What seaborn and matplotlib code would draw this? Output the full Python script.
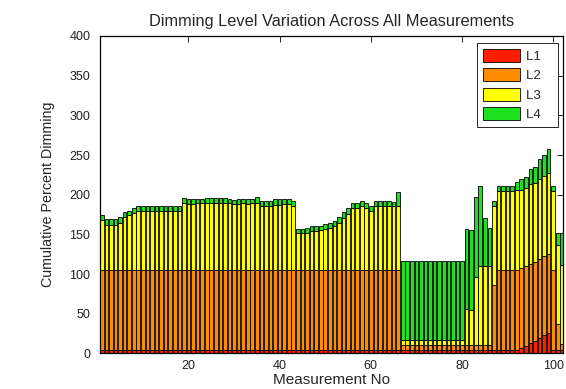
import pandas as pd
import matplotlib
matplotlib.use("Agg")
import matplotlib.pyplot as plt
import matplotlib.patches as mpatches
import seaborn as sns

l1 = [5, 5, 5, 5, 5, 5, 5, 5, 5, 5, 5, 5, 5, 5, 5, 5, 5, 5, 5, 5,
      5, 5, 5, 5, 5, 5, 5, 5, 5, 5, 5, 5, 5, 5, 5, 5, 5, 5, 5, 5,
      5, 5, 5, 5, 5, 5, 5, 5, 5, 5, 5, 5, 5, 5, 5, 5, 5, 5, 5, 5,
      5, 5, 5, 5, 5, 5, 5, 5, 5, 5, 5, 5, 5, 5, 5, 5, 5, 5, 5, 5,
      5, 5, 5, 5, 5, 5, 5, 5, 5, 5, 5, 5, 7.5, 9.7, 13, 15.7, 19.5, 22.8, 25.8, 5,
      5, 5]
l2 = [100, 100, 100, 100, 100, 100, 100, 100, 100, 100, 100, 100, 100, 100, 100, 100, 100, 100, 100, 100,
      100, 100, 100, 100, 100, 100, 100, 100, 100, 100, 100, 100, 100, 100, 100, 100, 100, 100, 100, 100,
      100, 100, 100, 100, 100, 100, 100, 100, 100, 100, 100, 100, 100, 100, 100, 100, 100, 100, 100, 100,
      100, 100, 100, 100, 100, 100, 6, 6, 6, 6, 6, 6, 6, 6, 6, 6, 6, 6, 6, 6,
      6, 6, 6, 6, 6, 6, 81, 100, 100, 100, 100, 100, 100, 100, 100, 100, 100, 100, 100, 100,
      31.6, 6.6]
l3 = [63, 57, 57, 57, 60, 67, 70, 72, 74, 74, 74, 74, 74, 74, 74, 74, 74, 74, 84, 83,
      83, 84, 84, 85, 85, 85, 85, 85, 84, 83, 83, 84, 83, 84, 85, 80.5, 80.5, 80.5, 82, 82,
      83, 83, 80.5, 47, 47, 47, 49, 49, 50, 52, 53, 56, 60, 66, 71, 78, 78, 80.5, 78, 75,
      81, 81, 81, 81, 81, 81, 6, 6, 6, 6, 6, 6, 6, 6, 6, 6, 6, 6, 6, 6,
      45.5, 44.3, 85.6, 99.5, 99.5, 99.5, 99.5, 100, 100, 100, 100, 100.7, 99, 99.3, 100, 99.3, 99.7, 100.5, 101, 100,
      100.5, 99.4]
l4 = [6, 7, 7, 7, 7, 6, 5, 6, 6.5, 6.5, 6.5, 6.5, 6.5, 6.5, 6.5, 6.5, 6.5, 6.5, 6.3, 6,
      6, 5.5, 5.5, 5.5, 6.3, 6.3, 6.3, 6.3, 5.4, 5.9, 6, 5, 6, 5, 6.7, 6.3, 6.3, 6.3, 7, 7,
      7, 6, 6.7, 5.4, 5.4, 6.2, 6.3, 6.3, 6, 6, 6.7, 5.9, 6.7, 7, 7.2, 6.6, 6.6, 6.3, 6.6, 6.4,
      6.3, 6.3, 6.3, 6.3, 5.1, 17.7, 100, 100, 100, 100, 100, 100, 100, 100, 100, 100, 100, 100, 100, 100,
      100, 100, 100, 100.8, 60.7, 48, 6.5, 6.4, 6.4, 6.4, 6.4, 10.7, 12.7, 13.8, 19.6, 20, 26.4, 26.5, 30.2, 6.4,
      14.7, 40.8]

levels = ["L1", "L2", "L3", "L4"]
colors = ["#ff1e00", "#ff8c00", "#ffff00", "#1ee01e"]

rows = []
for name, vals in zip(levels, [l1, l2, l3, l4]):
    for i, v in enumerate(vals):
        rows.append({"measurement": i + 1, "level": name, "value": v})
df = pd.DataFrame(rows)

sns.set_style("white")
plt.rcParams["font.family"] = ["Liberation Sans", "DejaVu Sans"]

fig = plt.figure(figsize=(5.66, 3.89), dpi=100)
ax = fig.add_axes([0.1767, 0.0913, 0.8176, 0.8162])

# seaborn stacks the last hue level at the bottom
sns.histplot(data=df, x="measurement", weights="value", hue="level",
             hue_order=levels[::-1], palette=dict(zip(levels, colors)),
             multiple="stack", discrete=True, shrink=0.8, alpha=1,
             edgecolor="black", linewidth=0.6, legend=False, ax=ax)

ax.set_xlim(0.6, 102.1)
ax.set_ylim(0, 400)
ax.set_xticks([20, 40, 60, 80, 100])
ax.set_yticks(range(0, 401, 50))
ax.tick_params(direction="in", top=True, right=True, length=4, width=0.6,
               labelsize=9, colors="black", labelcolor="#222222")
ax.tick_params(axis="y", pad=7)
ax.tick_params(axis="x", pad=5)
for s in ax.spines.values():
    s.set_color("black")
    s.set_linewidth(0.9)

ax.set_title("Dimming Level Variation Across All Measurements", fontsize=11.8, pad=7)
ax.set_xlabel("Measurement No", fontsize=11, labelpad=0.5)
ax.set_ylabel("Cumulative Percent Dimming", fontsize=10.3, labelpad=10)

handles = [mpatches.Patch(facecolor=c, edgecolor="black", linewidth=0.6, label=l + "   ")
           for l, c in zip(levels, colors)]
leg = ax.legend(handles=handles, loc="upper right", fontsize=9.5, fancybox=False,
                edgecolor="black", framealpha=1, handlelength=2.8, handleheight=1.15,
                handletextpad=0.45, borderpad=0.45, labelspacing=0.42,
                bbox_to_anchor=(1 - 4.8 / 462.7, 1 - 6.7 / 317.5), borderaxespad=0)
leg.get_frame().set_linewidth(0.6)

fig.savefig("out.png", dpi=100)
